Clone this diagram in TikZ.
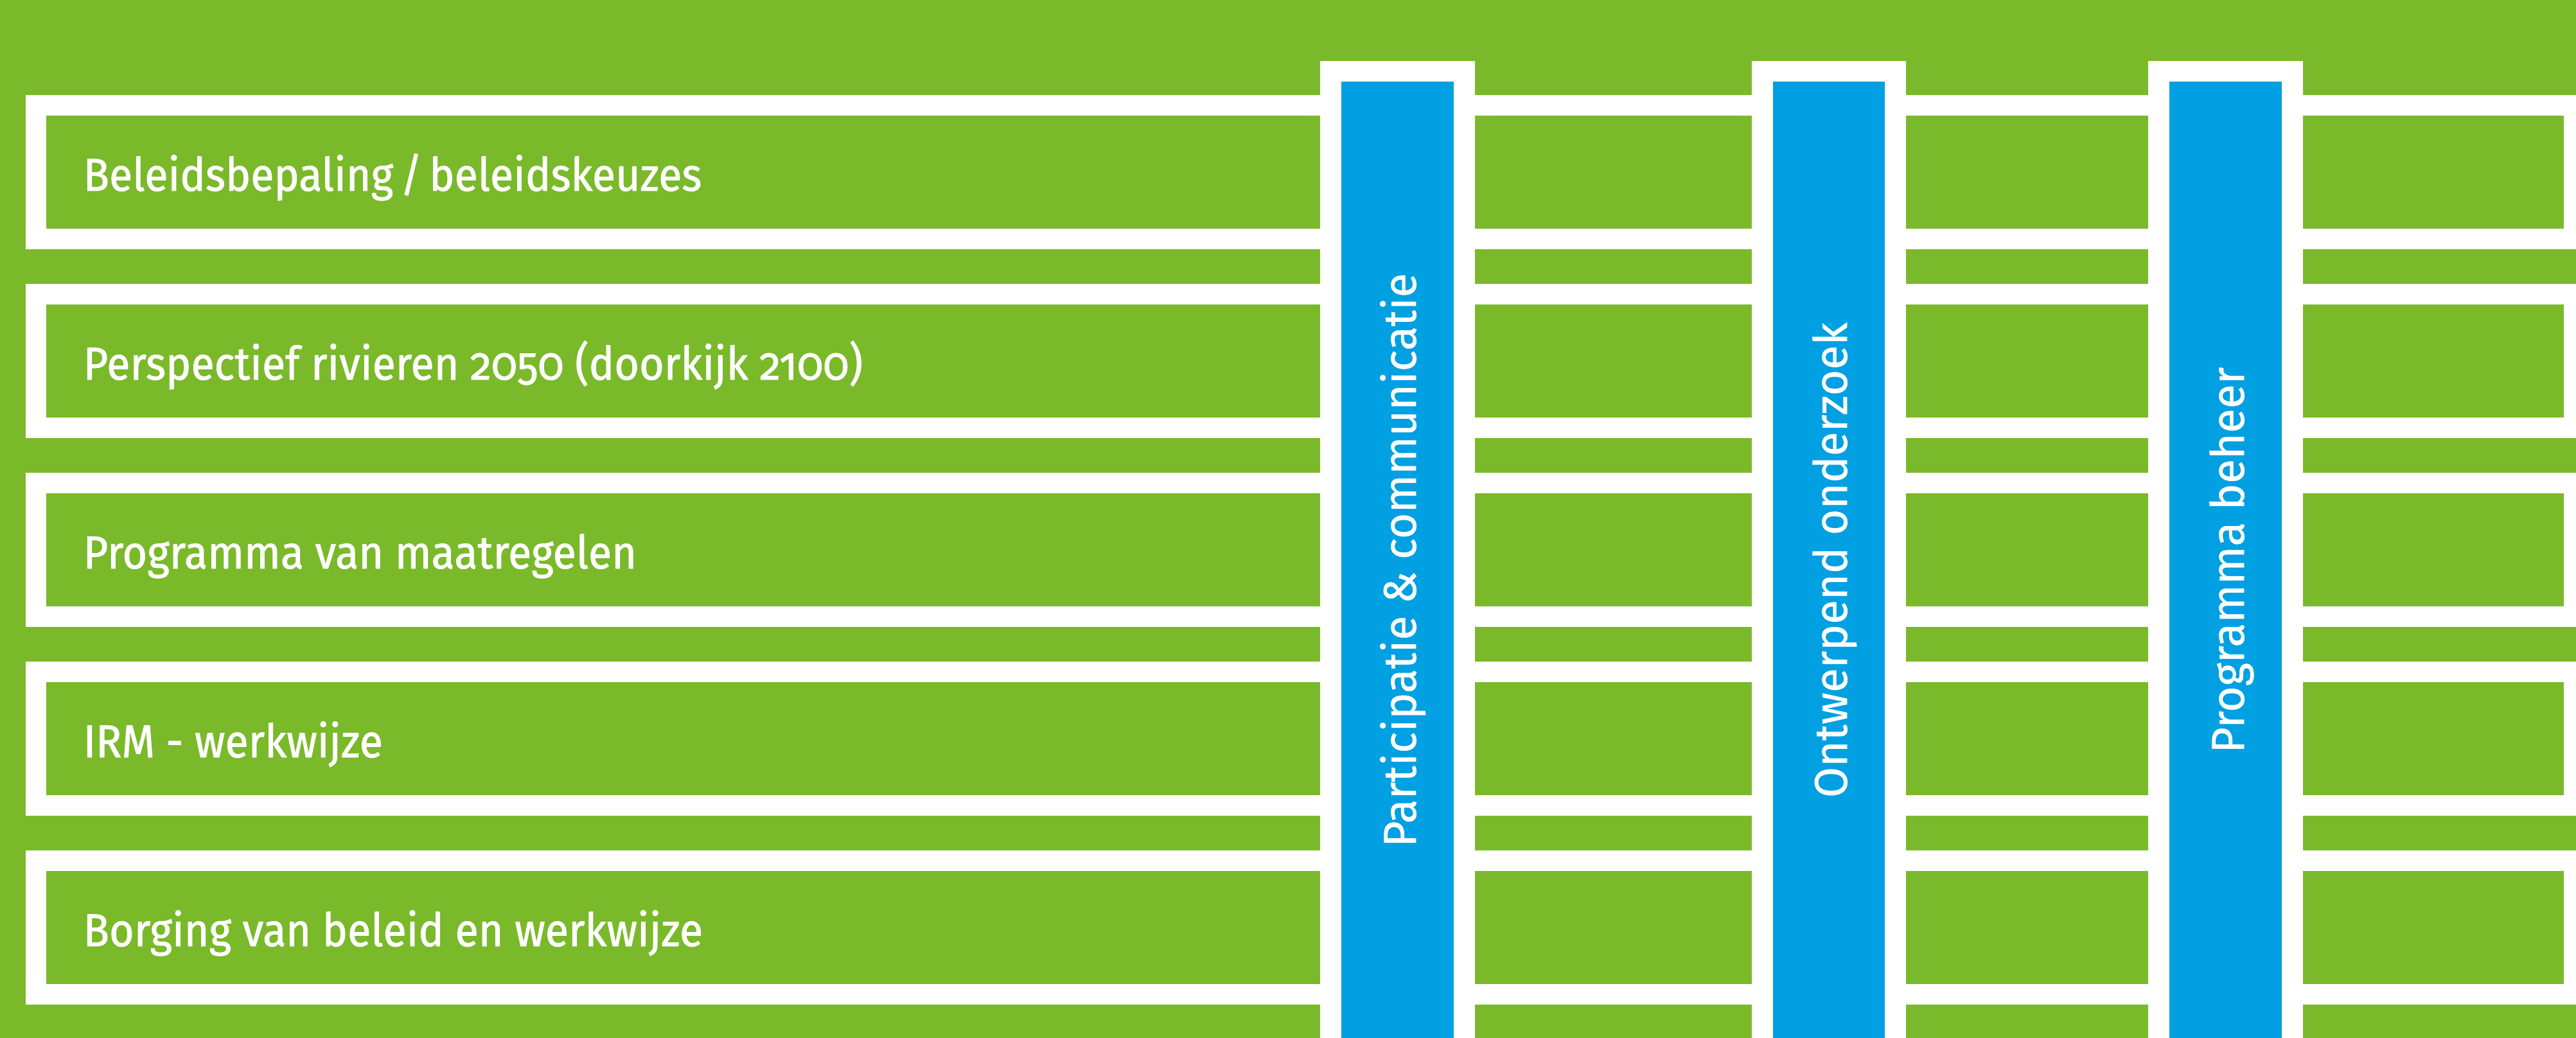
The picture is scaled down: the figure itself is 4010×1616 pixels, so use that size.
\documentclass[tikz,border=0pt]{standalone}
\usepackage{fontspec}
\setmainfont{Fira Sans}[Numbers=OldStyle]
\newfontfamily\rowfont{Fira Sans}[Numbers=OldStyle, FakeStretch=0.925, FakeBold=1.2]
\newfontfamily\colfont{Fira Sans}[Numbers=OldStyle, FakeStretch=0.97, FakeBold=0.6]
\definecolor{bggreen}{RGB}{122,185,42}
\definecolor{colblue}{RGB}{0,160,226}
\tikzset{
  rowlabel/.style={anchor=base west, inner sep=0pt, text=white, font=\rowfont\fontsize{20.4pt}{24pt}\selectfont},
  collabel/.style={anchor=base, rotate=90, inner sep=0pt, text=white, font=\colfont\fontsize{20.4pt}{24pt}\selectfont}
}
\begin{document}
\begin{tikzpicture}[x=0.01cm,y=-0.01cm]
\useasboundingbox (0,0) rectangle (4010,1616);
\clip (0,0) rectangle (4010,1616);
\fill[bggreen] (0,0) rectangle (4010,1616);
% rows
\foreach \i in {0,...,4}{
  \pgfmathsetmacro{\top}{148+294*\i}
  \fill[white] (40,\top) rectangle (4023,\top+240);
  \fill[bggreen] (72,\top+32) rectangle (3991,\top+208);
}
% columns
\foreach \a/\b in {2055/2296, 2727/2967, 3344/3585}{
  \fill[white] (\a,95) rectangle (\b,1700);
  \fill[colblue] (\a+33,127) rectangle (\b-33,1700);
}
\node[rowlabel] (t1) at (129,297) {Beleidsbepaling\hspace{0.15em}/\hspace{0.15em}beleidskeuzes};
\node[rowlabel] (t2) at (129,591) {Perspectief rivieren 2050 (doorkijk 2100)};
\node[rowlabel] (t3) at (129,885) {Programma van maatregelen};
\node[rowlabel] (t4) at (129,1179) {IRM - werkwijze};
\node[rowlabel] (t5) at (129,1473) {Borging van beleid en werkwijze};
\node[collabel] (c1) at (2204,872) {Participatie \& communicatie};
\node[collabel] (c2) at (2875,872) {Ontwerpend onderzoek};
\node[collabel] (c3) at (3493,872) {Programma beheer};
\end{tikzpicture}
\end{document}
